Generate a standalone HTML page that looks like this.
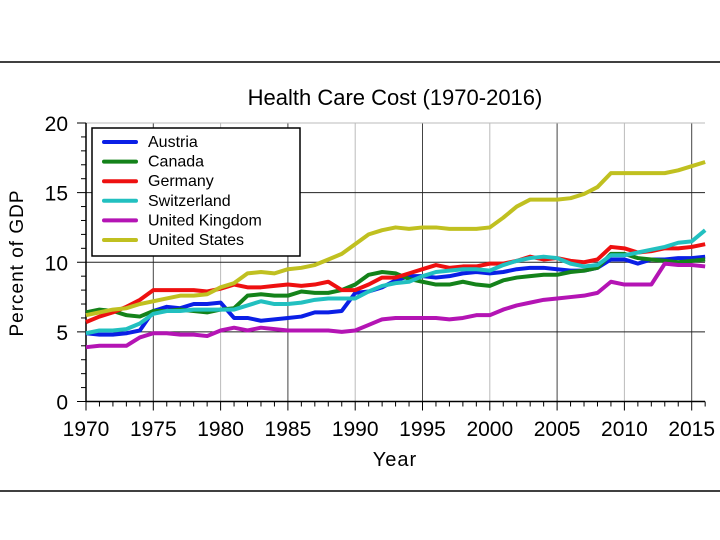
<!DOCTYPE html>
<html><head><meta charset="utf-8"><style>
body{margin:0;background:#fff;width:720px;height:540px;overflow:hidden}
svg{display:block;font-family:"Liberation Sans",sans-serif}
</style></head><body>
<svg id="chart" width="720" height="540">
<line x1="0" y1="62" x2="720" y2="62" stroke="#000" stroke-width="1.5"/>
<line x1="0" y1="491" x2="720" y2="491" stroke="#000" stroke-width="1.5"/>
<text x="395" y="105" font-size="22" text-anchor="middle">Health Care Cost  (1970-2016)</text>
<text transform="translate(23,263) rotate(-90)" font-size="19" text-anchor="middle" letter-spacing="1">Percent of GDP</text>
<text x="395" y="466" font-size="20" text-anchor="middle" letter-spacing="1">Year</text>
<g id="grid"></g><g id="axes"></g><g id="series"></g><g id="legend"></g>
</svg>
<script>
const years=[];for(let y=1970;y<=2016;y++)years.push(y);
const xTicks=[1970,1975,1980,1985,1990,1995,2000,2005,2010,2015];
const yTicks=[0,5,10,15,20];
const seriesNames=["Austria","Canada","Germany","Switzerland","United Kingdom","United States"];
const austria=[4.9,4.8,4.8,4.9,5.1,6.5,6.8,6.7,7.0,7.0,7.1,6.0,6.0,5.8,5.9,6.0,6.1,6.4,6.4,6.5,7.8,7.9,8.2,8.7,9.0,9.0,8.9,9.0,9.2,9.3,9.2,9.3,9.5,9.6,9.6,9.5,9.4,9.4,9.6,10.2,10.2,9.9,10.2,10.2,10.3,10.3,10.4];
const canada=[6.4,6.6,6.5,6.2,6.1,6.5,6.5,6.6,6.5,6.4,6.6,6.7,7.6,7.7,7.6,7.6,7.9,7.8,7.8,8.0,8.4,9.1,9.3,9.2,8.8,8.6,8.4,8.4,8.6,8.4,8.3,8.7,8.9,9.0,9.1,9.1,9.3,9.4,9.6,10.6,10.6,10.3,10.2,10.1,10.0,10.1,10.2];
const germany=[5.7,6.1,6.4,6.8,7.3,8.0,8.0,8.0,8.0,7.9,8.1,8.4,8.2,8.2,8.3,8.4,8.3,8.4,8.6,8.0,8.0,8.4,8.9,8.9,9.2,9.5,9.8,9.6,9.7,9.7,9.9,9.9,10.1,10.4,10.2,10.3,10.1,10.0,10.2,11.1,11.0,10.7,10.8,11.0,11.0,11.1,11.3];
const switzerland=[4.9,5.1,5.1,5.2,5.6,6.3,6.5,6.5,6.6,6.6,6.6,6.6,6.9,7.2,7.0,7.0,7.1,7.3,7.4,7.4,7.4,7.9,8.3,8.5,8.6,9.0,9.3,9.4,9.5,9.5,9.4,9.8,10.1,10.3,10.4,10.3,9.9,9.7,9.8,10.5,10.5,10.7,10.9,11.1,11.4,11.5,12.3];
const uk=[3.9,4.0,4.0,4.0,4.6,4.9,4.9,4.8,4.8,4.7,5.1,5.3,5.1,5.3,5.2,5.1,5.1,5.1,5.1,5.0,5.1,5.5,5.9,6.0,6.0,6.0,6.0,5.9,6.0,6.2,6.2,6.6,6.9,7.1,7.3,7.4,7.5,7.6,7.8,8.6,8.4,8.4,8.4,9.9,9.8,9.8,9.7];
const us=[6.2,6.4,6.6,6.7,7.0,7.2,7.4,7.6,7.6,7.7,8.2,8.5,9.2,9.3,9.2,9.5,9.6,9.8,10.2,10.6,11.3,12.0,12.3,12.5,12.4,12.5,12.5,12.4,12.4,12.4,12.5,13.2,14.0,14.5,14.5,14.5,14.6,14.9,15.4,16.4,16.4,16.4,16.4,16.4,16.6,16.9,17.2];
const allSeries=[austria,canada,germany,switzerland,uk,us];
const colors=["#0a1fe6","#14821a","#ee1010","#22c0c0","#b414b4","#c0c020"];
const L=86,R=705,T=123,B=401.5;
const xs=y=>L+(y-1970)*(691.7-86)/45;
const ys=v=>B-v*(B-T)/20;
const NS="http://www.w3.org/2000/svg";
function mk(tag,attrs,parent){const e=document.createElementNS(NS,tag);for(const k in attrs)e.setAttribute(k,attrs[k]);parent.appendChild(e);return e;}
const grid=document.getElementById('grid'),axes=document.getElementById('axes'),ser=document.getElementById('series'),leg=document.getElementById('legend');
xTicks.forEach(t=>{if(t===1970)return;const l=mk('line',{x1:xs(t),x2:xs(t),y1:T,y2:B,stroke:(t%10===0)?'#bbb':'#444','stroke-width':1},grid);

});
yTicks.forEach(t=>{if(t===0||t===20)return;const l=mk('line',{x1:L,x2:R,y1:ys(t),y2:ys(t),stroke:'#222','stroke-width':1},grid);

});
mk('line',{x1:L,x2:R,y1:T,y2:T,stroke:'#bbb'},axes);
mk('line',{x1:L,x2:L,y1:T,y2:B,stroke:'#000','stroke-width':1.5},axes);
mk('line',{x1:L,x2:R,y1:B,y2:B,stroke:'#000','stroke-width':1.5},axes);
for(let y=1970;y<=2016;y++){const m=y%5===0;mk('line',{x1:xs(y),x2:xs(y),y1:B,y2:B+(m?9:5),stroke:'#000'},axes);}
for(let v=0;v<=20;v++){const m=v%5===0;mk('line',{x1:L,x2:L-(m?9:5),y1:ys(v),y2:ys(v),stroke:'#000'},axes);}
xTicks.forEach(t=>{const e=mk('text',{x:xs(t),y:436,'font-size':21,'text-anchor':'middle'},axes);e.textContent=t;

});
yTicks.forEach(t=>{const e=mk('text',{x:68,y:ys(t)+8,'font-size':21,'text-anchor':'end'},axes);e.textContent=t;

});
allSeries.forEach((d,i)=>{const p=mk('polyline',{points:d.map((v,j)=>xs(years[j])+','+ys(v)).join(' '),fill:'none',stroke:colors[i],'stroke-width':4,'stroke-linejoin':'round'},ser);

});
const box=mk('rect',{x:92,y:128,width:208,height:128,fill:'#fff',stroke:'#000','stroke-width':1.5},leg);


seriesNames.forEach((n,i)=>{const y=141+i*19.6;
const g=mk('g',{},leg);


mk('line',{x1:104,x2:136,y1:y+1,y2:y+1,stroke:colors[i],'stroke-width':4,'stroke-linecap':'round'},g);
const t=mk('text',{x:148,y:y+6,'font-size':16},g);t.textContent=n;});
</script>
</body></html>
